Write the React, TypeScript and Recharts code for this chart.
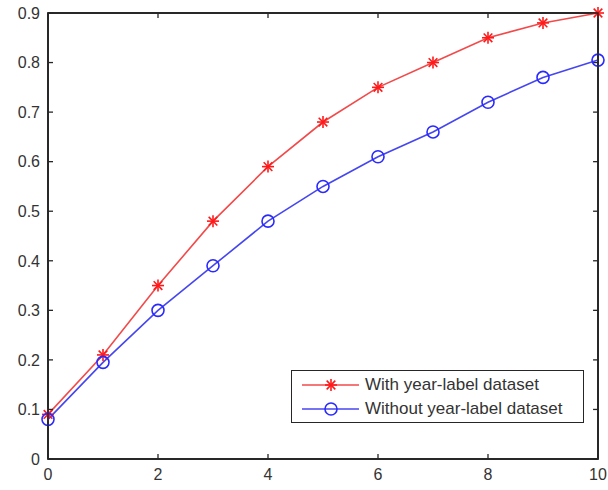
import React from 'react';
import { LineChart, Line, XAxis, YAxis, ReferenceLine, ReferenceArea } from 'recharts';

const xValues = [0, 1, 2, 3, 4, 5, 6, 7, 8, 9, 10];
const withYearLabel = [0.09, 0.21, 0.35, 0.48, 0.59, 0.68, 0.75, 0.8, 0.85, 0.88, 0.9];
const withoutYearLabel = [0.08, 0.195, 0.3, 0.39, 0.48, 0.55, 0.61, 0.66, 0.72, 0.77, 0.805];
const xTicks = [0, 2, 4, 6, 8, 10];
const yTicks = [0, 0.1, 0.2, 0.3, 0.4, 0.5, 0.6, 0.7, 0.8, 0.9];
const seriesNames = ['With year-label dataset', 'Without year-label dataset'];
const X_DOMAIN: [number, number] = [0, 10];
const Y_DOMAIN: [number, number] = [0, 0.9];

const data = xValues.map((x, i) => ({ x, a: withYearLabel[i], b: withoutYearLabel[i] }));

const AXIS = '#262626';
const TEXT = '#333333';
const FONT = '"Liberation Sans", Arial, sans-serif';
const RED_LINE = '#f24a4a';
const RED_MARK = '#ff1a1a';
const BLUE_LINE = '#4646f0';
const BLUE_MARK = '#2a2aff';
const X_TICK_FRAC = 0.009;
const Y_TICK_FRAC = 0.011;

const StarShape = ({ cx, cy, color, s = 6 }: any) => {
  const d = s * 0.72;
  return (
    <g stroke={color} strokeWidth={1.6}>
      <line x1={cx - s} y1={cy} x2={cx + s} y2={cy} />
      <line x1={cx} y1={cy - s} x2={cx} y2={cy + s} />
      <line x1={cx - d} y1={cy - d} x2={cx + d} y2={cy + d} />
      <line x1={cx - d} y1={cy + d} x2={cx + d} y2={cy - d} />
    </g>
  );
};

const StarDot = (props: any) => {
  const { cx, cy, index } = props;
  if (cx == null || cy == null) return <g key={`s${index}`} />;
  return <StarShape key={`s${index}`} cx={cx} cy={cy} color={RED_MARK} />;
};

const CircleDot = (props: any) => {
  const { cx, cy, index } = props;
  if (cx == null || cy == null) return <g key={`c${index}`} />;
  return <circle key={`c${index}`} cx={cx} cy={cy} r={6} fill="none" stroke={BLUE_MARK} strokeWidth={1.6} />;
};

const BottomLabel = (props: any) => {
  const { x, y, payload } = props;
  return (
    <g>
      <line x1={x} y1={y - 9} x2={x} y2={y - 14} stroke={AXIS} strokeWidth={1.3} />
      <text x={x} y={y} dy="0.75em" textAnchor="middle" fill={TEXT} fontSize={16} fontFamily={FONT}>
        {payload.value}
      </text>
    </g>
  );
};

const LeftLabel = (props: any) => {
  const { x, y, payload } = props;
  return (
    <g>
      <line x1={x + 8} y1={y} x2={x + 13} y2={y} stroke={AXIS} strokeWidth={1.3} />
      <text x={x} y={y} dy="0.36em" textAnchor="end" fill={TEXT} fontSize={16} fontFamily={FONT}>
        {Math.round(payload.value * 10) / 10}
      </text>
    </g>
  );
};

export default function App() {
  const [x0, x1] = X_DOMAIN;
  const [y0, y1] = Y_DOMAIN;
  const dy = (y1 - y0) * Y_TICK_FRAC;
  const dx = (x1 - x0) * X_TICK_FRAC;
  return (
    <div style={{ position: 'absolute', left: 0, top: 0, width: 608, height: 490, background: '#fff' }}>
      <LineChart width={608} height={490} data={data} margin={{ top: 13, right: 10, bottom: 0, left: 0 }}>
        <XAxis
          dataKey="x"
          type="number"
          domain={X_DOMAIN}
          ticks={xTicks}
          tickLine={false}
          tickSize={0}
          tickMargin={9}
          height={31}
          stroke={AXIS}
          axisLine={{ stroke: AXIS, strokeWidth: 1.5 }}
          tick={<BottomLabel />}
          interval={0}
        />
        <YAxis
          type="number"
          domain={Y_DOMAIN}
          ticks={yTicks}
          tickLine={false}
          tickSize={0}
          tickMargin={8}
          width={48}
          stroke={AXIS}
          axisLine={{ stroke: AXIS, strokeWidth: 1.5 }}
          tick={<LeftLabel />}
          interval={0}
        />
        <ReferenceArea x1={x0} x2={x1} y1={y0} y2={y1} fill="none" fillOpacity={0} stroke={AXIS} strokeWidth={1.5} />
        <ReferenceLine y={y1} stroke={AXIS} strokeWidth={1.5} />
        <ReferenceLine x={x1} stroke={AXIS} strokeWidth={1.5} />
        {xTicks.map((t) => (
          <ReferenceLine
            key={`xt${t}`}
            segment={[{ x: t, y: y1 }, { x: t, y: y1 - dy }]}
            stroke={AXIS}
            strokeWidth={1.3}
          />
        ))}
        {yTicks.map((t) => (
          <ReferenceLine
            key={`yr${t}`}
            segment={[{ x: x1, y: t }, { x: x1 - dx, y: t }]}
            stroke={AXIS}
            strokeWidth={1.3}
          />
        ))}
        <Line
          dataKey="a"
          name={seriesNames[0]}
          stroke={RED_LINE}
          strokeWidth={1.6}
          dot={<StarDot />}
          isAnimationActive={false}
        />
        <Line
          dataKey="b"
          name={seriesNames[1]}
          stroke={BLUE_LINE}
          strokeWidth={1.6}
          dot={<CircleDot />}
          isAnimationActive={false}
        />
      </LineChart>
      <svg width={608} height={490} style={{ position: 'absolute', left: 0, top: 0, pointerEvents: 'none' }}>
        <rect x={48} y={13} width={550} height={446} fill="none" stroke={AXIS} strokeWidth={1.5} />
      </svg>
      <div
        style={{
          position: 'absolute',
          left: 291,
          top: 370,
          width: 293,
          height: 53,
          border: `1px solid ${AXIS}`,
          background: '#fff',
          boxSizing: 'border-box',
          fontFamily: FONT,
          fontSize: 17,
          color: TEXT,
        }}
      >
        {[0, 1].map((i) => (
          <div key={i} style={{ position: 'absolute', left: 0, top: i === 0 ? 3 : 27, height: 22, display: 'flex', alignItems: 'center', whiteSpace: 'nowrap' }}>
            <svg width={73} height={22} style={{ display: 'block' }}>
              <line x1={10} y1={11} x2={67} y2={11} stroke={i === 0 ? RED_LINE : BLUE_LINE} strokeWidth={1.6} />
              {i === 0 ? (
                <StarShape cx={39} cy={11} color={RED_MARK} />
              ) : (
                <circle cx={39} cy={11} r={6} fill="none" stroke={BLUE_MARK} strokeWidth={1.6} />
              )}
            </svg>
            <span>{seriesNames[i]}</span>
          </div>
        ))}
      </div>
    </div>
  );
}
